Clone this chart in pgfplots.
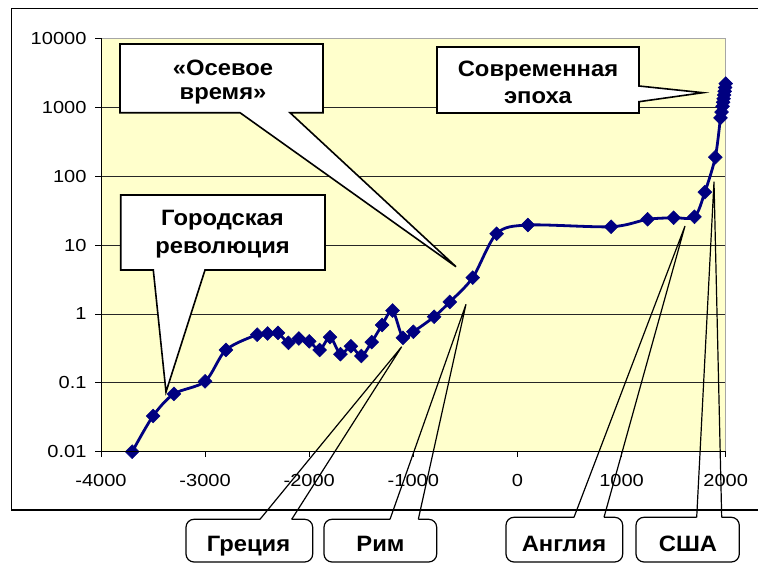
\documentclass[border=0pt]{standalone}
\usepackage{pgfplots}
\pgfplotsset{compat=1.18}
\usepackage{pgfplotstable}
\usepackage{fontspec}
\setmainfont{Liberation Sans}
\newfontfamily\tickfont[FakeStretch=1.15]{Liberation Sans}
\newfontfamily\cofont[FakeStretch=1.07]{Liberation Sans}
\definecolor{bgyellow}{RGB}{255,255,204}
\definecolor{navy}{RGB}{0,0,128}
\pgfplotstableread{
x y
-3700 0.010
-3500 0.033
-3300 0.069
-3000 0.105
-2800 0.30
-2500 0.50
-2400 0.52
-2300 0.53
-2200 0.38
-2100 0.44
-2000 0.40
-1900 0.30
-1800 0.46
-1700 0.26
-1600 0.34
-1500 0.245
-1400 0.39
-1300 0.69
-1200 1.12
-1100 0.45
-1000 0.55
-800 0.91
-650 1.49
-430 3.36
-200 14.6
100 19.5
900 18.4
1250 23.6
1500 24.9
1700 25.7
1800 58.6
1900 188
1950 700
1960 850
1970 1030
1975 1180
1980 1330
1985 1500
1990 1700
1995 1930
2000 2200
}\datatable
\begin{document}
\begin{tikzpicture}
\useasboundingbox (0,0) rectangle (758bp,-565bp);
\begin{scope}
\clip (0,0) rectangle (758bp,-565bp);
\begin{scope}[x=1bp,y=-1bp]
\draw[black,line width=1.3bp] (11.7,8.3) rectangle (790,510);
\end{scope}
\begin{axis}[
  at={(101bp,-451.7bp)}, anchor=south west,
  scale only axis, width=624.7bp, height=413.4bp,
  xmin=-4000, xmax=2000, ymode=log, ymin=0.01, ymax=10000,
  xtick={-4000,-3000,-2000,-1000,0,1000,2000},
  xticklabels={-4000,-3000,-2000,-1000,0,1000,2000},
  ytick={0.01,0.1,1,10,100,1000,10000},
  yticklabels={0.01,0.1,1,10,100,1000,10000},
  yminorticks=false,
  tick align=outside, major tick length=5.5bp,
  tick style={black, line width=0.8bp},
  xtick pos=bottom, ytick pos=left,
  ymajorgrids, grid style={black!85, line width=0.8bp},
  axis background/.style={fill=bgyellow},
  axis line style={draw=gray!70, line width=0.9bp},
  tick label style={font=\tickfont\fontsize{17.5}{20}\selectfont},
  xticklabel style={anchor=base, yshift=-29bp},
  yticklabel style={anchor=east, xshift=-5.5bp},
]
\addplot[navy, line width=2.8bp, smooth, tension=0.5, mark=square*,
  mark size=4.9bp, mark options={rotate=45, fill=navy, draw=navy, line width=0.5bp}]
  table[x=x,y=y] {\datatable};
\end{axis}
\begin{scope}[x=1bp,y=-1bp]
\draw[gray!70,line width=0.9bp] (101,38.3) -- (725.7,38.3);
\draw[black,line width=1bp] (101,38.3) -- (101,451.7) -- (725.7,451.7);
% top callouts
\tikzset{co/.style={fill=white,draw=black,line width=1.6bp,line join=miter}}
\draw[co] (120.7,195) -- (325,195) -- (325,270) -- (205,270) -- (166,392) -- (153.3,270) -- (120.7,270) -- cycle;
\draw[co] (120,44) -- (323,44) -- (323,112.7) -- (290,112.7) -- (456,266.7) -- (240,112.7) -- (120,112.7) -- cycle;
\draw[co] (437,47) -- (639,47) -- (639,86) -- (703,92.7) -- (639,101.7) -- (639,113) -- (437,113) -- cycle;
\tikzset{ct/.style={anchor=base,inner sep=0pt,font=\cofont\fontsize{22.3}{26}\selectfont\bfseries}}
\node[ct] at (223,75) {«Осевое};
\node[ct] at (223,99) {время»};
\node[ct] at (538,76.7) {Современная};
\node[ct] at (538,103.5) {эпоха};
\node[ct] at (222.5,225) {Городская};
\node[ct] at (222.5,253) {революция};
% bottom callouts
\tikzset{cb/.style={draw=black,line width=1.2bp}}
\draw[cb] (260,519.3) -- (401.7,346.7) -- (291.7,519.3);
\draw[cb,rounded corners=8bp] (291.7,519.3) -- (312.7,519.3) -- (312.7,562) -- (186,562) -- (186,519.3) -- (260,519.3);
\draw[cb] (390,519.3) -- (466,304.3) -- (418.3,519.3);
\draw[cb,rounded corners=8bp] (418.3,519.3) -- (436.7,519.3) -- (436.7,562) -- (324,562) -- (324,519.3) -- (390,519.3);
\draw[cb] (574,517.3) -- (685,226) -- (604,517.3);
\draw[cb,rounded corners=8bp] (604,517.3) -- (622.7,517.3) -- (622.7,562) -- (506,562) -- (506,517.3) -- (574,517.3);
\draw[cb] (696.7,517.3) -- (714,181.7) -- (721.7,517.3);
\draw[cb,rounded corners=8bp] (721.7,517.3) -- (739.3,517.3) -- (739.3,562) -- (636,562) -- (636,517.3) -- (696.7,517.3);
\node[ct] at (248.5,551.5) {Греция};
\node[ct] at (380.5,551.5) {Рим};
\node[ct] at (564,551.5) {Англия};
\node[ct] at (688,551.5) {США};
\end{scope}
\end{scope}
\end{tikzpicture}
\end{document}
